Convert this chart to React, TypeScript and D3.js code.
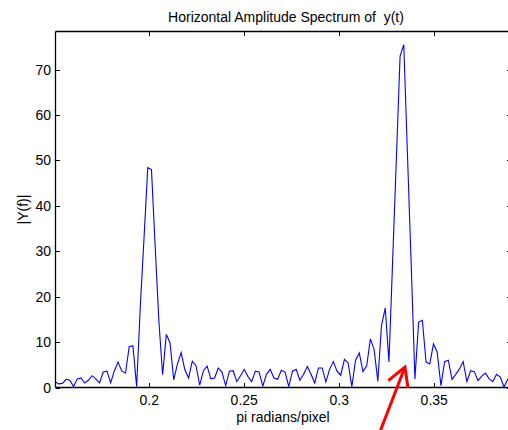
import React from "react";
import * as d3 from "d3";

// FFT bin layout: frequency (pi rad/pixel) = bin * 2 / 1024
const binStart = 77;
const binWidth = 2 / 1024;

// |Y(f)| values for bins 77..200
const amplitude: number[] = [
  1.3, 0.8, 0.9, 1.8, 1.6, 0.2, 1.9, 2.1, 1.0, 1.6,
  2.6, 1.9, 1.0, 3.4, 3.6, 1.0, 3.7, 5.6, 3.6, 3.2,
  9.0, 9.2, 0.2, 18, 33, 48.4, 48.0, 31, 14.6, 2.8,
  11.7, 9.8, 1.7, 5.2, 7.7, 3.9, 2.1, 5.8, 4.8, 0.5,
  3.7, 4.7, 1.9, 2.1, 4.3, 3.4, 0.4, 3.6, 3.7, 1.3,
  2.6, 4.0, 2.4, 1.3, 3.6, 3.4, 0.3, 2.9, 4.0, 2.1,
  1.8, 3.8, 3.4, 0.2, 3.6, 4.0, 1.6, 2.9, 4.6, 2.9,
  1.0, 4.3, 4.3, 1.2, 4.0, 5.7, 3.6, 2.7, 6.2, 5.4,
  0.2, 6.0, 7.6, 3.5, 4.8, 10.7, 8.4, 1.4, 13.7, 17.5,
  5.6, 28, 50.5, 73, 75.5, 51, 27, 1.9, 14.4, 14.8,
  5.6, 5.2, 9.6, 7.8, 0.4, 5.7, 6.0, 1.8, 2.9, 4.1,
  5.7, 1.3, 3.7, 3.5, 1.5, 2.5, 3.2, 1.9, 1.3, 2.9,
  2.3, 0.1, 1.8, 2.5,
];

const xTicks = [0.2, 0.25, 0.3, 0.35];
const xTickLabels = ["0.2", "0.25", "0.3", "0.35"];
const yTicks = [0, 10, 20, 30, 40, 50, 60, 70];
const yTickLabels = ["0", "10", "20", "30", "40", "50", "60", "70"];
const yMax = 78.4;

const title = "Horizontal Amplitude Spectrum of  y(t)";
const xLabel = "pi radians/pixel";
const yLabel = "|Y(f)|";

// annotation arrow (data units): tail, tip, wings
const arrowTail = { f: 0.3214, v: -9.8 };
const arrowTip = { f: 0.3346, v: 4.5 };
const arrowWingL = { f: 0.3258, v: 1.5 };
const arrowWingR = { f: 0.3362, v: -0.1 };

const W = 508;
const H = 430;
const FONT = "'Liberation Sans', Arial, Helvetica, sans-serif";

export default function App() {
  const fMin = binStart * binWidth;
  const fMax = (binStart + amplitude.length - 1) * binWidth;
  const x = d3.scaleLinear().domain([fMin, fMax]).range([55, 511.4]);
  const y = d3.scaleLinear().domain([0, yMax]).range([387.5, 31.5]);

  const pts: [number, number][] = amplitude.map((v, i) => [
    (binStart + i) * binWidth,
    v,
  ]);
  const line = d3
    .line<[number, number]>()
    .x((d) => x(d[0]))
    .y((d) => y(d[1]));

  const L = 55.5;
  const R = 511.5;
  const T = 31.5;
  const B = 387.5;
  const tl = 4.5;

  return (
    <svg
      width={W}
      height={H}
      style={{ position: "absolute", left: 0, top: 0, background: "#fff" }}
      fontFamily={FONT}
    >
      <rect x={0} y={0} width={W} height={H} fill="#fff" />
      <defs>
        <clipPath id="plotclip">
          <rect x={L} y={T - 2} width={R - L} height={B - T + 4} />
        </clipPath>
      </defs>
      <path
        d={line(pts) || ""}
        fill="none"
        stroke="#0000ff"
        strokeWidth={1.1}
        clipPath="url(#plotclip)"
      />
      {/* box */}
      <path
        d={`M${L},${T}H${R}M${L},${B}H${R}M${L},${T}V${B}M${R},${T}V${B}`}
        stroke="#000"
        strokeWidth={1.3}
        fill="none"
      />
      {/* x ticks */}
      {xTicks.map((t, i) => {
        const px = Math.round(x(t)) + 0.5;
        return (
          <g key={"xt" + i}>
            <line x1={px} x2={px} y1={B} y2={B - tl} stroke="#000" />
            <line x1={px} x2={px} y1={T} y2={T + tl} stroke="#000" />
            <text
              x={x(t)}
              y={405}
              fontSize={14}
              textAnchor="middle"
              fill="#000"
            >
              {xTickLabels[i]}
            </text>
          </g>
        );
      })}
      {/* y ticks */}
      {yTicks.map((t, i) => {
        const py = Math.round(y(t)) + 0.5;
        return (
          <g key={"yt" + i}>
            <line x1={L} x2={L + tl} y1={py} y2={py} stroke="#000" />
            <line x1={R - tl} x2={R} y1={py} y2={py} stroke="#000" />
            <text
              x={51}
              y={y(t) + 5}
              fontSize={14}
              textAnchor="end"
              fill="#000"
            >
              {yTickLabels[i]}
            </text>
          </g>
        );
      })}
      <text
        x={286}
        y={21.5}
        fontSize={14}
        textAnchor="middle"
        fill="#000"
        style={{ whiteSpace: "pre" }}
      >
        {title}
      </text>
      <text x={283} y={422} fontSize={14} textAnchor="middle" fill="#000">
        {xLabel}
      </text>
      <text
        transform={`translate(28,${(T + B) / 2}) rotate(-90)`}
        fontSize={14}
        textAnchor="middle"
        fill="#000"
      >
        {yLabel}
      </text>
      {/* red arrow annotation */}
      <g stroke="#ff0000" strokeWidth={3} fill="none" strokeLinecap="butt">
        <line
          x1={x(arrowTail.f)}
          y1={y(arrowTail.v)}
          x2={x(arrowTip.f)}
          y2={y(arrowTip.v)}
        />
        <polyline
          points={`${x(arrowWingL.f)},${y(arrowWingL.v)} ${x(arrowTip.f)},${y(
            arrowTip.v
          )} ${x(arrowWingR.f)},${y(arrowWingR.v)}`}
          strokeLinejoin="miter"
        />
      </g>
    </svg>
  );
}
